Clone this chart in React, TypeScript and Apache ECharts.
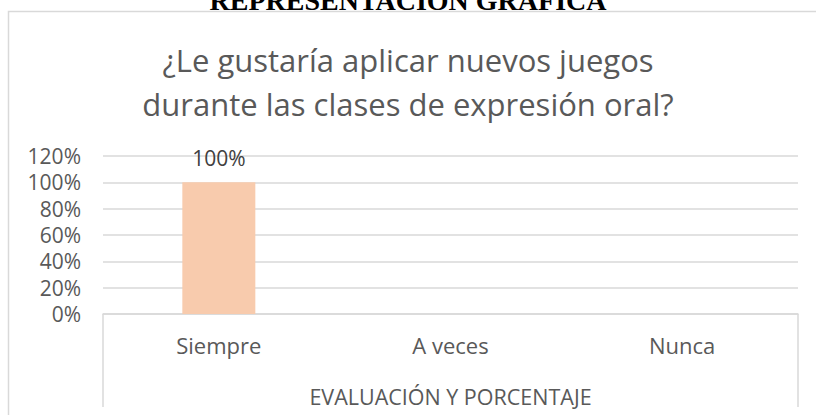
import React, { useEffect, useRef } from "react";
import * as echarts from "echarts";

const categories = ["Siempre", "A veces", "Nunca"];
const values = [1.0, 0, 0];
const dataLabels = ["100%", "", ""];
const yTicks = [0, 0.2, 0.4, 0.6, 0.8, 1.0, 1.2];
const chartTitle = "¿Le gustaría aplicar nuevos juegos\ndurante las clases de expresión oral?";
const pageHeading = "REPRESENTACIÓN GRÁFICA";
const axisTitle = "EVALUACIÓN Y PORCENTAJE";

const FONT = "'Open Sans', 'Noto Sans', sans-serif";
const TEXT = "#595959";
const GRID = "#d9d9d9";

export default function App() {
  const ref = useRef<HTMLDivElement>(null);
  useEffect(() => {
    if (!ref.current) return;
    const chart = echarts.init(ref.current, undefined, { renderer: "svg" });
    const gridLeft = 103;
    const gridRight = 18;
    const gridTop = 156;
    const gridBottom = 101;
    const W = 816;
    const H = 415;
    const axisY = H - gridBottom;
    chart.setOption({
      animation: false,
      backgroundColor: "#ffffff",
      title: {
        text: chartTitle,
        left: "center",
        top: 33,
        textStyle: {
          fontFamily: FONT,
          fontSize: 31,
          fontWeight: "normal",
          color: TEXT,
          lineHeight: 44,
        },
      },
      grid: { left: gridLeft, right: gridRight, top: gridTop, bottom: gridBottom, containLabel: false },
      xAxis: {
        type: "category",
        data: categories,
        axisLine: { show: true, lineStyle: { color: GRID, width: 1.5 } },
        axisTick: { show: false },
        axisLabel: { color: TEXT, fontFamily: FONT, fontSize: 22, margin: 20 },
        name: axisTitle,
        nameLocation: "middle",
        nameGap: 71,
        nameTextStyle: { color: TEXT, fontFamily: FONT, fontSize: 21.5 },
      },
      yAxis: {
        type: "value",
        min: yTicks[0],
        max: yTicks[yTicks.length - 1],
        interval: yTicks[1] - yTicks[0],
        axisLine: { show: false },
        axisTick: { show: false },
        splitLine: { show: true, lineStyle: { color: GRID, width: 1.5 } },
        axisLabel: {
          color: TEXT,
          fontFamily: FONT,
          fontSize: 21,
          lineHeight: 22,
          margin: 22,
          formatter: (v: number) => Math.round(v * 100) + "%",
        },
      },
      series: [
        {
          type: "bar",
          data: values,
          barWidth: 73,
          itemStyle: { color: "#F8CBAD" },
          label: {
            show: true,
            position: "top",
            distance: 13,
            color: "#404040",
            fontFamily: FONT,
            fontSize: 21,
            lineHeight: 22,
            formatter: (p: any) => dataLabels[p.dataIndex],
          },
        },
      ],
      graphic: [
        {
          type: "text",
          left: "center",
          top: -14,
          style: {
            text: pageHeading,
            fontFamily: "'Liberation Serif', 'Times New Roman', serif",
            fontWeight: "bold",
            fontSize: 28,
            fill: "#000000",
          },
        },
        {
          type: "rect",
          shape: { x: 8.5, y: 11.5, width: 830, height: 430 },
          style: { fill: "none", stroke: GRID, lineWidth: 1.5 },
          silent: true,
        },
        {
          type: "line",
          shape: { x1: gridLeft, y1: axisY, x2: gridLeft, y2: 407 },
          style: { stroke: GRID, lineWidth: 1.5 },
        },
        {
          type: "line",
          shape: { x1: W - gridRight, y1: axisY, x2: W - gridRight, y2: 407 },
          style: { stroke: GRID, lineWidth: 1.5 },
        },
      ],
    });
    return () => chart.dispose();
  }, []);
  return (
    <div
      ref={ref}
      style={{ position: "fixed", left: 0, top: 0, width: 816, height: 415 }}
    />
  );
}
